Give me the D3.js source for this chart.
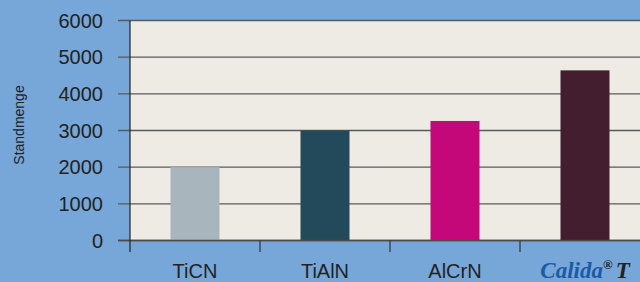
<!DOCTYPE html>
<html>
<head>
<meta charset="utf-8">
<script src="https://cdn.jsdelivr.net/npm/d3@7"></script>
<style>
  body { margin: 0; background: #76a7d8; }
  svg { display: block; }
</style>
</head>
<body>
<div id="chart"></div>
<script>
// data
var categories = ["TiCN", "TiAlN", "AlCrN", "Calida T"];
var values = [2000, 3000, 3260, 4640];
var yTicks = [0, 1000, 2000, 3000, 4000, 5000, 6000];
var barColors = ["#a8b5bd", "#234a5a", "#c4087a", "#421e2e"];

var width = 640, height = 282;
var plotLeft = 130, plotTop = 20.5, plotBottom = 240.5;

var svg = d3.select("#chart")
  .append("svg")
  .attr("width", width)
  .attr("height", height);

svg.append("rect")
  .attr("width", width).attr("height", height)
  .attr("fill", "#76a7d8");

var x = d3.scaleBand()
  .domain(categories)
  .range([plotLeft, plotLeft + 130 * categories.length])
  .padding(0);

var y = d3.scaleLinear()
  .domain([0, 6000])
  .range([plotBottom, plotTop]);

// plot background
svg.append("rect")
  .attr("x", plotLeft)
  .attr("y", plotTop)
  .attr("width", width - plotLeft)
  .attr("height", plotBottom - plotTop)
  .attr("fill", "#eeebe4");

// gridlines + y ticks
svg.selectAll(".grid")
  .data(yTicks)
  .enter().append("line")
  .attr("class", "grid")
  .attr("x1", plotLeft - 12)
  .attr("x2", width)
  .attr("y1", function(d) { return y(d); })
  .attr("y2", function(d) { return y(d); })
  .attr("stroke", "#5a5a5a")
  .attr("stroke-width", 1.3);

svg.selectAll(".ylab")
  .data(yTicks)
  .enter().append("text")
  .attr("class", "ylab")
  .attr("x", 103)
  .attr("y", function(d) { return y(d); })
  .attr("dy", "0.36em")
  .attr("text-anchor", "end")
  .attr("font-family", "Liberation Sans, Arial, sans-serif")
  .attr("font-size", "20px")
  .attr("fill", "#222")
  .text(function(d) { return d; });

// bars
var barW = 49;
svg.selectAll(".bar")
  .data(values)
  .enter().append("rect")
  .attr("class", "bar")
  .attr("x", function(d, i) { return x(categories[i]) + x.bandwidth() / 2 - barW / 2; })
  .attr("y", function(d) { return y(d); })
  .attr("width", barW)
  .attr("height", function(d) { return plotBottom - y(d); })
  .attr("fill", function(d, i) { return barColors[i]; });

// x axis line on top of bars
svg.append("line")
  .attr("x1", plotLeft - 12).attr("x2", width)
  .attr("y1", plotBottom).attr("y2", plotBottom)
  .attr("stroke", "#4a4a4a")
  .attr("stroke-width", 1.5);

// y axis line
svg.append("line")
  .attr("x1", plotLeft).attr("x2", plotLeft)
  .attr("y1", plotTop).attr("y2", 252)
  .attr("stroke", "#222")
  .attr("stroke-width", 1.2);

// x category ticks
svg.selectAll(".xtick")
  .data(categories.slice(1))
  .enter().append("line")
  .attr("class", "xtick")
  .attr("x1", function(d) { return x(d); })
  .attr("x2", function(d) { return x(d); })
  .attr("y1", plotBottom)
  .attr("y2", 252)
  .attr("stroke", "#333")
  .attr("stroke-width", 1.2);

// x labels
categories.forEach(function(c, i) {
  var cx = x(c) + x.bandwidth() / 2;
  if (i < 3) {
    svg.append("text")
      .attr("x", cx)
      .attr("y", 278)
      .attr("text-anchor", "middle")
      .attr("font-family", "Liberation Sans, Arial, sans-serif")
      .attr("font-size", "20px")
      .attr("fill", "#222")
      .text(c);
  } else {
    var t = svg.append("text")
      .attr("x", cx)
      .attr("y", 278)
      .attr("text-anchor", "middle")
      .attr("font-family", "Liberation Serif, Times New Roman, serif")
      .attr("font-style", "italic")
      .attr("font-weight", "bold")
      .attr("font-size", "23px");
    t.append("tspan").attr("fill", "#1d5aa6").text("Calida");
    t.append("tspan").attr("fill", "#222").attr("font-size", "13px")
      .attr("font-style", "normal").attr("dy", "-9").text("®");
    t.append("tspan").attr("fill", "#222").attr("dy", "9").attr("dx", "3").text("T");
  }
});

// y axis title
svg.append("text")
  .attr("transform", "translate(24,125) rotate(-90)")
  .attr("text-anchor", "middle")
  .attr("font-family", "Liberation Sans, Arial, sans-serif")
  .attr("font-size", "14px")
  .attr("fill", "#222")
  .text("Standmenge");
</script>
</body>
</html>
